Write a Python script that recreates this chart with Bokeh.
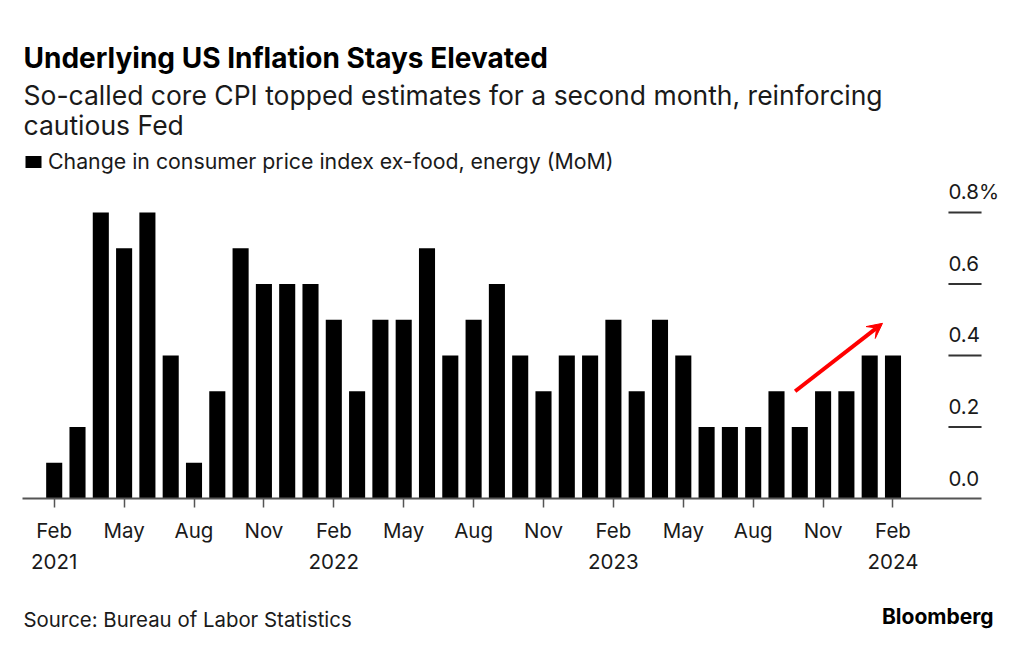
from bokeh.plotting import figure
from bokeh.layouts import column
from bokeh.models import (Range1d, Label, LabelSet, ColumnDataSource, Legend, LegendItem,
                          Arrow, VeeHead, FixedTicker)
from bokeh.core.properties import value
from bokeh.embed import file_html
from bokeh.resources import INLINE

# ---- data ----
months = ["Feb 2021", "Mar 2021", "Apr 2021", "May 2021", "Jun 2021", "Jul 2021", "Aug 2021",
          "Sep 2021", "Oct 2021", "Nov 2021", "Dec 2021", "Jan 2022", "Feb 2022", "Mar 2022",
          "Apr 2022", "May 2022", "Jun 2022", "Jul 2022", "Aug 2022", "Sep 2022", "Oct 2022",
          "Nov 2022", "Dec 2022", "Jan 2023", "Feb 2023", "Mar 2023", "Apr 2023", "May 2023",
          "Jun 2023", "Jul 2023", "Aug 2023", "Sep 2023", "Oct 2023", "Nov 2023", "Dec 2023",
          "Jan 2024", "Feb 2024"]
core_cpi_mom = [0.1, 0.2, 0.8, 0.7, 0.8, 0.4, 0.1, 0.3, 0.7, 0.6, 0.6, 0.6, 0.5, 0.3,
                0.5, 0.5, 0.7, 0.4, 0.5, 0.6, 0.4, 0.3, 0.4, 0.4, 0.5, 0.3, 0.5, 0.4,
                0.2, 0.2, 0.2, 0.3, 0.2, 0.3, 0.3, 0.4, 0.4]
x_tick_labels = {0: "Feb\n2021", 3: "May", 6: "Aug", 9: "Nov", 12: "Feb\n2022", 15: "May",
                 18: "Aug", 21: "Nov", 24: "Feb\n2023", 27: "May", 30: "Aug", 33: "Nov",
                 36: "Feb\n2024"}
y_ticks = [0.0, 0.2, 0.4, 0.6, 0.8]
y_tick_labels = ["0.0", "0.2", "0.4", "0.6", "0.8%"]
arrow_from = (31.8, 0.30)
arrow_to = (35.55, 0.49)

title = "Underlying US Inflation Stays Elevated"
subtitle_lines = ["So-called core CPI topped estimates for a second month, reinforcing",
                  "cautious Fed"]
legend_text = "Change in consumer price index ex-food, energy (MoM)"
source_text = "Source: Bureau of Labor Statistics"

FONT = "Inter"
TXT = "#1a1a1a"

idx = list(range(len(months)))
src = ColumnDataSource(dict(x=idx, top=core_cpi_mom, month=months))

p = figure(width=1024, height=578, output_backend="svg", toolbar_location=None,
           x_range=Range1d(-2.305, 41.644), y_range=Range1d(0, 1.393),
           min_border_left=0, min_border_right=0, min_border_top=0, min_border_bottom=80)
p.outline_line_color = None
p.grid.visible = False
p.yaxis.visible = False
p.background_fill_color = "white"
p.border_fill_color = "white"

bars = p.vbar(x="x", top="top", bottom=0, width=0.69, source=src,
              fill_color="black", line_color=None)

# x axis
xa = p.xaxis[0]
xa.ticker = FixedTicker(ticks=list(x_tick_labels.keys()))
xa.major_label_overrides = x_tick_labels
xa.bounds = (-1.36, 39.8)
xa.axis_line_color = "#555555"
xa.axis_line_width = 2
xa.major_tick_line_color = "#555555"
xa.major_tick_line_width = 1.5
xa.major_tick_in = 0
xa.major_tick_out = 9
xa.minor_tick_line_color = None
xa.major_label_standoff = 10
xa.major_label_text_font = FONT
xa.major_label_text_font_size = "20.5px"
xa.major_label_text_color = TXT
xa.major_label_text_line_height = 1.27

# right-side value scale: short lines with labels above
grid_x0 = 38.38
grid_x1 = 39.8
grid_src = ColumnDataSource(dict(y=y_ticks[1:]))
p.segment(x0=grid_x0, x1=grid_x1, y0="y", y1="y", source=grid_src,
          line_color="#333333", line_width=2)
lab_src = ColumnDataSource(dict(x=[grid_x0] * len(y_ticks), y=y_ticks, t=y_tick_labels))
p.add_layout(LabelSet(x="x", y="y", text="t", source=lab_src, y_offset=13,
                      text_font=value(FONT), text_font_size=value("20.5px"), text_color=TXT,
                      text_baseline="alphabetic", text_align="left"))

# arrow
p.add_layout(Arrow(x_start=arrow_from[0], y_start=arrow_from[1],
                   x_end=arrow_to[0], y_end=arrow_to[1],
                   line_color="#ff0000", line_width=4,
                   end=VeeHead(size=15, fill_color="#ff0000", line_color="#ff0000",
                               line_width=1)))

# legend
legend = Legend(items=[LegendItem(label=legend_text, renderers=[bars])],
                location=(23, 324), orientation="horizontal",
                glyph_width=20, glyph_height=15, label_height=20, label_standoff=5,
                padding=0, margin=0, spacing=0,
                border_line_color=None, background_fill_alpha=0,
                label_text_font=FONT, label_text_font_size="21.3px", label_text_color=TXT)
p.add_layout(legend, "center")

# titles (screen units: from frame left / frame bottom)
p.add_layout(Label(x=23, y=441, x_units="screen", y_units="screen", text=title,
                   text_font=FONT, text_font_size="28px", text_font_style="bold",
                   text_color="black", text_baseline="alphabetic"))
p.add_layout(Label(x=23, y=404, x_units="screen", y_units="screen", text=subtitle_lines[0],
                   text_font=FONT, text_font_size="26.5px", text_color=TXT,
                   text_baseline="alphabetic"))
p.add_layout(Label(x=23, y=374, x_units="screen", y_units="screen", text=subtitle_lines[1],
                   text_font=FONT, text_font_size="26.5px", text_color=TXT,
                   text_baseline="alphabetic"))

# footer figure
f = figure(width=1024, height=67, output_backend="svg", toolbar_location=None,
           x_range=Range1d(0, 1), y_range=Range1d(0, 1),
           min_border_left=0, min_border_right=0, min_border_top=0, min_border_bottom=0)
f.outline_line_color = None
f.axis.visible = False
f.grid.visible = False
f.add_layout(Label(x=23, y=26, x_units="screen", y_units="screen", text=source_text,
                   text_font=FONT, text_font_size="20.4px", text_color=TXT,
                   text_baseline="alphabetic"))
f.add_layout(Label(x=993, y=29, x_units="screen", y_units="screen", text="Bloomberg",
                   text_font=FONT, text_font_size="21px", text_font_style="bold",
                   text_color="black", text_baseline="alphabetic", text_align="right"))

layout = column(p, f, spacing=0)
open("out.html", "w").write(file_html(layout, INLINE))
